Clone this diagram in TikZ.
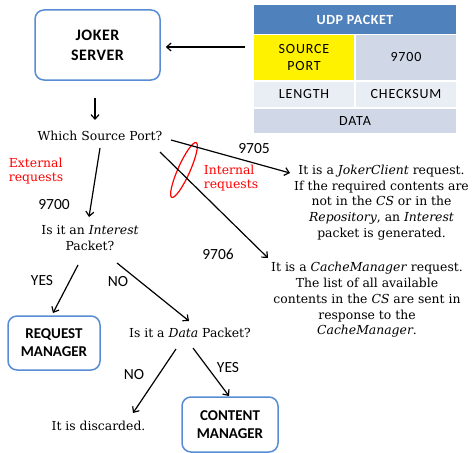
\documentclass[tikz,border=0pt]{standalone}
\usepackage{fontspec}
\setmainfont{DejaVu Serif}
\newfontfamily\calfont{Carlito}
\usetikzlibrary{arrows.meta,shapes.geometric}
\definecolor{boxblue}{RGB}{88,140,212}
\definecolor{hdrblue}{RGB}{79,129,189}
\definecolor{celldark}{RGB}{208,216,232}
\definecolor{celllight}{RGB}{233,237,244}
\definecolor{redtxt}{RGB}{255,0,0}
\begin{document}
\begin{tikzpicture}[x=1pt,y=-1pt,
  box/.style={draw=boxblue, line width=1.5pt, rounded corners=9pt, align=center,
    font=\calfont\bfseries\fontsize{15}{18}\selectfont, inner sep=0pt},
  arr/.style={-{Straight Barb[length=4.5pt,width=8pt]}, line width=1.2pt},
  sertxt/.style={font=\fontsize{12.4}{15.8}\selectfont, align=center, inner sep=0pt},
  redlab/.style={font=\fontsize{12.4}{14.5}\selectfont, align=left, text=redtxt, inner sep=0pt},
  numlab/.style={font=\calfont\fontsize{15.5}{17}\selectfont, inner sep=0pt},
  cell/.style={draw=white, line width=1.5pt, inner sep=0pt, align=center,
    font=\calfont\fontsize{14}{17}\selectfont\addfontfeature{LetterSpace=6}},
]
\useasboundingbox (0,0) rectangle (473,452);

% UDP table
\node[cell, fill=hdrblue, text=white, minimum width=204pt, minimum height=30pt,
  font=\calfont\bfseries\fontsize{14}{17}\selectfont\addfontfeature{LetterSpace=4}] (udp) at (355,19.5) {UDP PACKET};
\node[cell, fill=yellow, minimum width=102pt, minimum height=46pt] (sp) at (304,57.5) {SOURCE\\PORT};
\node[cell, fill=celldark, minimum width=102pt, minimum height=46pt] (spv) at (406,57.5) {9700};
\node[cell, fill=celllight, minimum width=102pt, minimum height=27pt] (len) at (304,94.5) {LENGTH};
\node[cell, fill=celllight, minimum width=102pt, minimum height=27pt] (chk) at (406,94.5) {CHECKSUM};
\node[cell, fill=celldark, minimum width=204pt, minimum height=26pt] (data) at (355,121) {DATA};

% boxes
\node[box, minimum width=125pt, minimum height=70pt, font=\calfont\bfseries\fontsize{16}{20}\selectfont\addfontfeature{LetterSpace=3}] (joker) at (97.5,45) {JOKER\\SERVER};
\node[box, minimum width=92pt, minimum height=54pt] (rm) at (54,343) {REQUEST\\MANAGER};
\node[box, minimum width=96pt, minimum height=55pt] (cmb) at (230,424.5) {CONTENT\\MANAGER};

% texts
\node[sertxt] (q1) at (100,136) {Which Source Port?};
\node[sertxt] (q2) at (90,238) {Is it an \textit{Interest}\\Packet?};
\node[sertxt] (q3) at (190,333) {Is it a \textit{Data} Packet?};
\node[sertxt] (disc) at (98.5,426) {It is discarded.};
\node[sertxt] (jc) at (381.5,202.5) {It is a \textit{JokerClient} request.\\If the required contents are\\not in the \textit{CS} or in the\\\textit{Repository}, an \textit{Interest}\\packet is generated.};
\node[sertxt] (cmt) at (367,300) {It is a \textit{CacheManager} request.\\The list of all available\\contents in the \textit{CS} are sent in\\response to the\\\textit{CacheManager}.};
\node[redlab] (ext) at (36,171) {External\\requests};
\node[redlab] (int) at (231,178) {Internal\\requests};

\node[numlab] (n9700) at (54,205) {9700};
\node[numlab] (n9705) at (254,149) {9705};
\node[numlab] (n9706) at (218,254) {9706};
\node[numlab] (yes1) at (42,281) {YES};
\node[numlab] (no1) at (118,282) {NO};
\node[numlab] (no2) at (134,375) {NO};
\node[numlab] (yes2) at (228,368) {YES};

\node[draw=redtxt, line width=1.2pt, ellipse, minimum width=12pt, minimum height=60pt, inner sep=0pt, rotate=-24] (ell) at (184,170) {};

% connectors
\draw[arr] ([shift={(-7,-10.5)}]sp.west) -- ([shift={(5,2)}]joker.east);
\draw[arr] ([shift={(-2.5,17)}]joker.south) -- ([shift={(-5,-16)}]q1.center);
\draw[arr] ([shift={(0,12)}]q1.center) -- ([shift={(-1,-21)}]q2.center);
\draw[arr] ([shift={(71,4)}]q1.center) -- ([shift={(-91.5,-29.5)}]jc.center);
\draw[arr] ([shift={(60,16)}]q1.center) -- ([shift={(-99,-42)}]cmt.center);
\draw[arr] ([shift={(-12,27)}]q2.center) -- ([shift={(-1,-30)}]rm.center);
\draw[arr] ([shift={(27,25)}]q2.center) -- ([shift={(-1,-12)}]q3.center);
\draw[arr] ([shift={(-14,16)}]q3.center) -- ([shift={(34.5,-13)}]disc.center);
\draw[arr] ([shift={(3,15)}]q3.center) -- ([shift={(-1,-28.5)}]cmb.center);
\end{tikzpicture}
\end{document}
